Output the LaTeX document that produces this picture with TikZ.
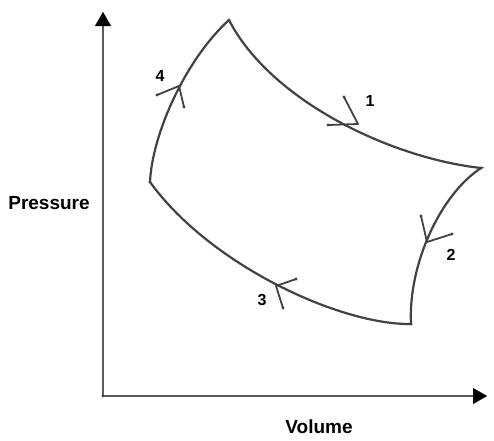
\documentclass[tikz,border=0pt]{standalone}
\usepackage{fontspec}
\setmainfont{Liberation Sans}
\usetikzlibrary{arrows.meta}
\definecolor{curvex}{HTML}{424242}
\definecolor{axisx}{HTML}{5C5C5C}
\tikzset{
  cyc/.style={curvex,line width=2.2pt},
  axx/.style={-{Triangle[length=14pt,width=16pt,line width=0.01pt,color=black]},axisx,line width=2.6pt},
  flag/.style={curvex,line width=1.8pt,line cap=round},
  num/.style={font=\fontsize{16}{18}\selectfont\bfseries,inner sep=0pt},
  axlbl/.style={font=\fontsize{19}{22}\selectfont\bfseries,inner sep=0pt}
}
\begin{document}
\begin{tikzpicture}[x=1pt,y=-1pt]
\useasboundingbox (0,0) rectangle (494,440);
% axes
\coordinate (O) at (103,396);
\coordinate (ytop) at (103,12);
\coordinate (xend) at (487,396);
\draw[axx] (O)--(ytop);
\draw[axx] (O)--(xend);
\node[axlbl] (pres) at (49,203) {Pressure};
\node[axlbl] (vol) at (319,427) {Volume};
% corners of the cycle
\coordinate (A) at (229,20);
\coordinate (B) at (481,168);
\coordinate (C) at (411,324);
\coordinate (D) at (150,182);
\draw[cyc] (A) .. controls (270,100) and (390,158) .. (B)
           .. controls (440,195) and (408,265) .. (C)
           .. controls (340,325) and (210,265) .. (D)
           .. controls (152,135) and (185,60) .. (A);
% direction marks
\coordinate (m1) at (358,124); \coordinate (m1a) at (344,97);  \coordinate (m1b) at (328,125);
\coordinate (m2) at (427,242); \coordinate (m2a) at (421,216); \coordinate (m2b) at (452,234);
\coordinate (m3) at (276,286); \coordinate (m3a) at (296,279); \coordinate (m3b) at (283,308);
\coordinate (m4) at (179,86);  \coordinate (m4a) at (157,95);  \coordinate (m4b) at (184,107);
\foreach \m in {m1,m2,m3,m4}{
  \draw[flag] (\m)--(\m a);
  \draw[flag] (\m)--(\m b);
  \fill[curvex] (\m a) circle (1.6pt);
  \fill[curvex] (\m b) circle (1.6pt);
}
\foreach \p in {A,B,C,D,O}{\fill[curvex] (\p) circle (1.6pt);}
\node[num] (n1) at (370,101) {1};
\node[num] (n2) at (451,255) {2};
\node[num] (n3) at (262,300) {3};
\node[num] (n4) at (160,76) {4};
\end{tikzpicture}
\end{document}
